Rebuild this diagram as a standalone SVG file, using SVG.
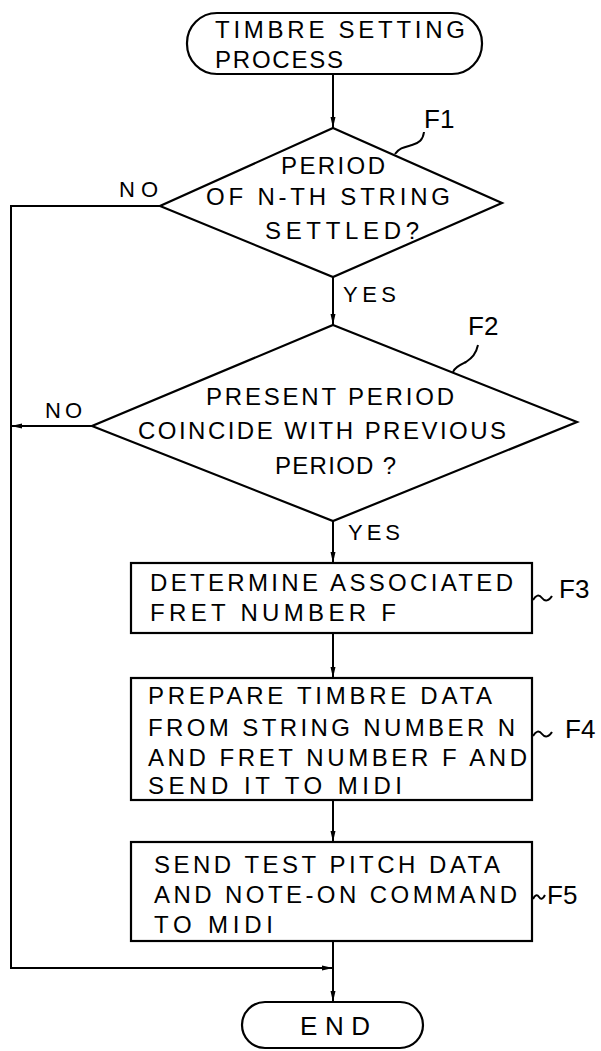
<svg xmlns="http://www.w3.org/2000/svg" width="601" height="1051" viewBox="0 0 601 1051">
<style>
.s{fill:none;stroke:#000;stroke-width:2}
.b{fill:#fff;stroke:#000;stroke-width:2.2}
text{font-family:"Liberation Sans",Arial,sans-serif;font-size:24px;fill:#000}
.l{font-size:22px}
.f{font-size:26px}
</style>
<defs>
<marker id="ah" markerWidth="12" markerHeight="8" refX="11" refY="4" orient="auto" markerUnits="userSpaceOnUse">
<path d="M0,1.5 L11,4 L0,6.5 Z" fill="#000"/>
</marker>
</defs>
<rect width="601" height="1051" fill="#fff"/>
<g id="connectors">
<line class="s" x1="333" y1="74" x2="333" y2="128" marker-end="url(#ah)"/>
<line class="s" x1="333" y1="277" x2="333" y2="325" marker-end="url(#ah)"/>
<line class="s" x1="333" y1="521" x2="333" y2="563" marker-end="url(#ah)"/>
<line class="s" x1="333" y1="633" x2="333" y2="678" marker-end="url(#ah)"/>
<line class="s" x1="333" y1="800" x2="333" y2="842" marker-end="url(#ah)"/>
<line class="s" x1="333" y1="941" x2="333" y2="1002" marker-end="url(#ah)"/>
<polyline class="s" points="160,206 11,206 11,968 333,968" marker-end="url(#ah)"/>
<line class="s" x1="92" y1="426" x2="11" y2="426" marker-end="url(#ah)"/>
<path class="s" d="M424,132 c-1,8 -5,11 -12,13 c-7,2 -13,3 -17,9"/>
<path class="s" d="M478,345 c-2,9 -6,13 -12,17 c-6,3 -11,5 -13,10"/>
<path class="s" d="M533,600 c3,-5 6,-6 9,-2 c3,4 7,3 10,-2"/>
<path class="s" d="M533,736 c3,-5 6,-6 9,-2 c3,4 7,3 10,-2"/>
<path class="s" d="M533,899 c2,-4 4,-5 6,-2 c2,3 4,2 6,-2"/>
</g>
<g id="start">
<rect class="b" x="187" y="13" width="295" height="61" rx="30" ry="30"/>
<text x="215" y="38" textLength="250" lengthAdjust="spacing">TIMBRE SETTING</text>
<text x="215" y="68" textLength="128" lengthAdjust="spacing">PROCESS</text>
</g>
<g id="F1">
<polygon class="b" points="333,128 502,203 333,277 160,206"/>
<text x="281" y="174" textLength="104" lengthAdjust="spacing">PERIOD</text>
<text x="206" y="205" textLength="244" lengthAdjust="spacing">OF N-TH STRING</text>
<text x="265" y="239" textLength="154" lengthAdjust="spacing">SETTLED?</text>
<text class="f" x="424" y="128">F1</text>
<text class="l" x="119" y="197" textLength="39" lengthAdjust="spacing">NO</text>
<text class="l" x="343" y="302" textLength="53" lengthAdjust="spacing">YES</text>
</g>
<g id="F2">
<polygon class="b" points="333,325 577,422 333,521 92,426"/>
<text x="206" y="405" textLength="248" lengthAdjust="spacing">PRESENT PERIOD</text>
<text x="138" y="439" textLength="368" lengthAdjust="spacing">COINCIDE WITH PREVIOUS</text>
<text x="275" y="474" textLength="121" lengthAdjust="spacing">PERIOD ?</text>
<text class="f" x="468" y="335">F2</text>
<text class="l" x="45" y="418" textLength="37" lengthAdjust="spacing">NO</text>
<text class="l" x="348" y="540" textLength="52" lengthAdjust="spacing">YES</text>
</g>
<g id="F3">
<rect class="b" x="131" y="563" width="401" height="70"/>
<text x="150" y="591" textLength="363" lengthAdjust="spacing">DETERMINE ASSOCIATED</text>
<text x="150" y="621" textLength="246" lengthAdjust="spacing">FRET NUMBER F</text>
<text class="f" x="559" y="598">F3</text>
</g>
<g id="F4">
<rect class="b" x="131" y="678" width="401" height="122"/>
<text x="148" y="704" textLength="344" lengthAdjust="spacing">PREPARE TIMBRE DATA</text>
<text x="148" y="736" textLength="367" lengthAdjust="spacing">FROM STRING NUMBER N</text>
<text x="148" y="766" textLength="379" lengthAdjust="spacing">AND FRET NUMBER F AND</text>
<text x="148" y="794" textLength="254" lengthAdjust="spacing">SEND IT TO MIDI</text>
<text class="f" x="565" y="738">F4</text>
</g>
<g id="F5">
<rect class="b" x="131" y="842" width="401" height="99"/>
<text x="154" y="873" textLength="346" lengthAdjust="spacing">SEND TEST PITCH DATA</text>
<text x="154" y="903" textLength="363" lengthAdjust="spacing">AND NOTE-ON COMMAND</text>
<text x="154" y="933" textLength="119" lengthAdjust="spacing">TO MIDI</text>
<text class="f" x="547" y="904">F5</text>
</g>
<g id="end">
<rect class="b" x="242" y="1002" width="181" height="46" rx="23" ry="23"/>
<text class="f" x="300" y="1035" textLength="70" lengthAdjust="spacing">END</text>
</g>
</svg>
